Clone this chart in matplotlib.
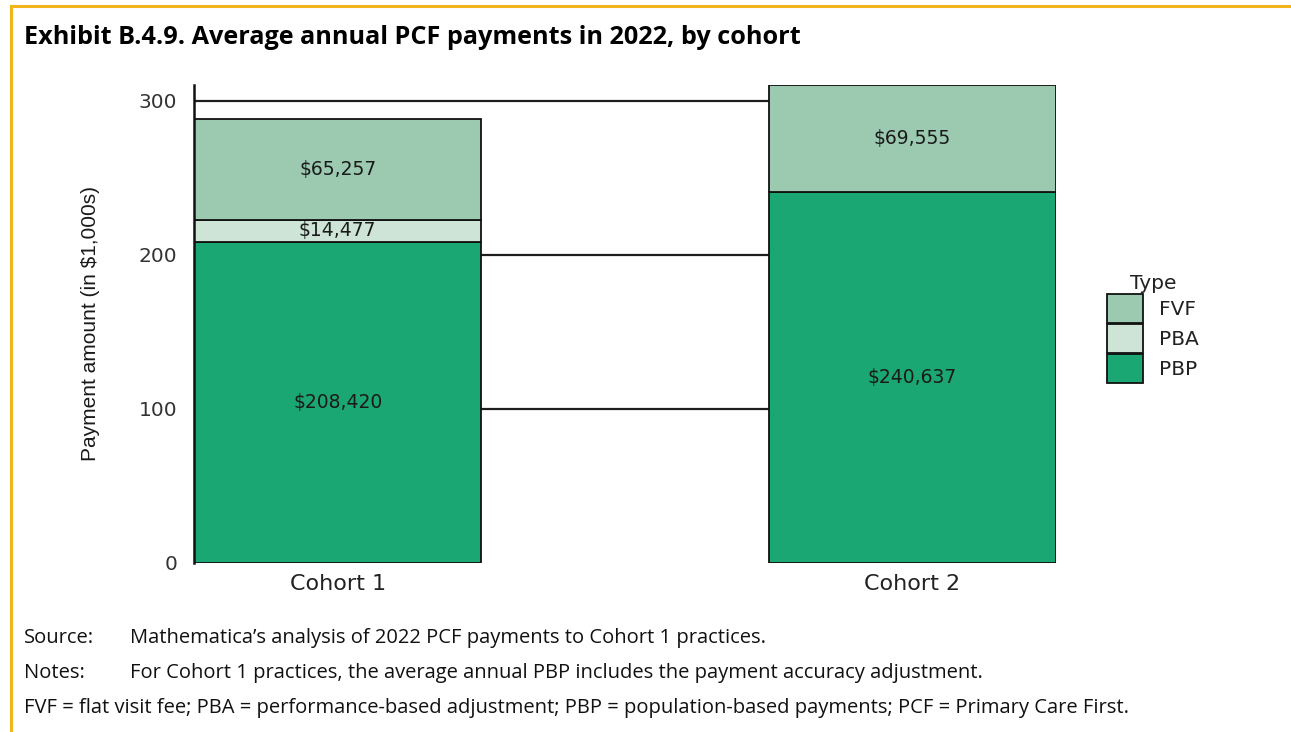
import matplotlib.pyplot as plt
from matplotlib.lines import Line2D

# Average annual PCF payments in 2022 ($1,000s), by cohort
cohorts = ["Cohort 1", "Cohort 2"]
pbp = [208.420, 240.637]
pba = [14.477, 0.0]
fvf = [65.257, 69.555]
yticks = [0, 100, 200, 300]
gridlines = [100, 200, 300]

col_pbp = "#1ba774"
col_pba = "#cde4d6"
col_fvf = "#9ccab0"

fig = plt.figure(figsize=(12.91, 7.32), dpi=100)
ax = fig.add_axes([0.1503, 0.2309, 0.8180 - 0.1503, 0.8839 - 0.2309])

x = list(range(len(cohorts)))
w = 0.5
for yv in gridlines:
    ax.axhline(yv, color="#1e1e1e", lw=1.6, zorder=0)

bottom2 = [a + b for a, b in zip(pbp, pba)]
b1 = ax.bar(x, pbp, w, color=col_pbp, edgecolor="#111111", lw=1.3, zorder=2, label="PBP")
# PBA only exists for Cohort 1
b2 = ax.bar(x[:1], pba[:1], w, bottom=pbp[:1], color=col_pba, edgecolor="#111111", lw=1.3, zorder=2, label="PBA")
b3 = ax.bar(x, fvf, w, bottom=bottom2, color=col_fvf, edgecolor="#111111", lw=1.3, zorder=2, label="FVF")

lab_kw = dict(ha="center", va="center", fontsize=13.5, color="#1a1a1a",
              family="DejaVu Sans", zorder=3)
for i in x:
    ax.text(i, pbp[i] / 2, f"${pbp[i] * 1000:,.0f}", **lab_kw)
    if pba[i] > 0:
        ax.text(i, pbp[i] + pba[i] / 2, f"${pba[i] * 1000:,.0f}", **lab_kw)
    ax.text(i, bottom2[i] + fvf[i] / 2, f"${fvf[i] * 1000:,.0f}", **lab_kw)

ax.set_xlim(-0.25, 1.25)
ax.set_ylim(0, pbp[1] + fvf[1])
ax.set_yticks(yticks)
ax.set_xticks(x)
ax.set_xticklabels(cohorts, fontsize=16, color="#222222", family="DejaVu Sans")
ax.set_yticklabels([str(t) for t in yticks], fontsize=14.5, color="#333333", family="DejaVu Sans")
ax.tick_params(axis="y", length=0, pad=12)
ax.tick_params(axis="x", length=0, pad=8)
for s in ["top", "right", "bottom"]:
    ax.spines[s].set_visible(False)
ax.spines["left"].set_linewidth(1.8)
ax.spines["left"].set_color("#111111")

ax.set_ylabel("Payment amount (in $1,000s)", fontsize=15, color="#1a1a1a",
              family="Liberation Sans", labelpad=28)

leg = ax.legend([b3, b2, b1], ["FVF", "PBA", "PBP"], title="Type",
                loc="center left", bbox_to_anchor=(0.8496, 0.551),
                bbox_transform=fig.transFigure, frameon=False,
                prop={"family": "DejaVu Sans", "size": 14.5},
                title_fontproperties={"family": "DejaVu Sans", "size": 14.5},
                handlelength=1.8, handleheight=1.84, labelspacing=0.05,
                handletextpad=0.8, borderpad=0)
for t in leg.get_texts():
    t.set_color("#222222")
leg.get_title().set_color("#222222")

# page-style heading, notes and border
fig.text(24 / 1291, 1 - 37 / 732, "Exhibit B.4.9. Average annual PCF payments in 2022, by cohort",
         fontsize=18.2, fontweight="bold", family="Open Sans", va="center", color="black")

note_kw = dict(fontsize=14.5, family="Open Sans", va="center", color="#111111")
fig.text(24 / 1291, 1 - 638 / 732, "Source:", **note_kw)
fig.text(130 / 1291, 1 - 638 / 732, "Mathematica\u2019s analysis of 2022 PCF payments to Cohort 1 practices.", **note_kw)
fig.text(24 / 1291, 1 - 673 / 732, "Notes:", **note_kw)
fig.text(130 / 1291, 1 - 673 / 732, "For Cohort 1 practices, the average annual PBP includes the payment accuracy adjustment.", **note_kw)
fig.text(24 / 1291, 1 - 708 / 732,
         "FVF = flat visit fee; PBA = performance-based adjustment; PBP = population-based payments; PCF = Primary Care First.",
         **note_kw)

fig.add_artist(Line2D([10.5 / 1291, 1], [1 - 5.5 / 732] * 2, color="#f2b41b", lw=2.2,
                      transform=fig.transFigure))
fig.add_artist(Line2D([10.5 / 1291] * 2, [0, 1 - 5.5 / 732], color="#f2b41b", lw=2.2,
                      transform=fig.transFigure))

fig.savefig("out.png", dpi=100)
